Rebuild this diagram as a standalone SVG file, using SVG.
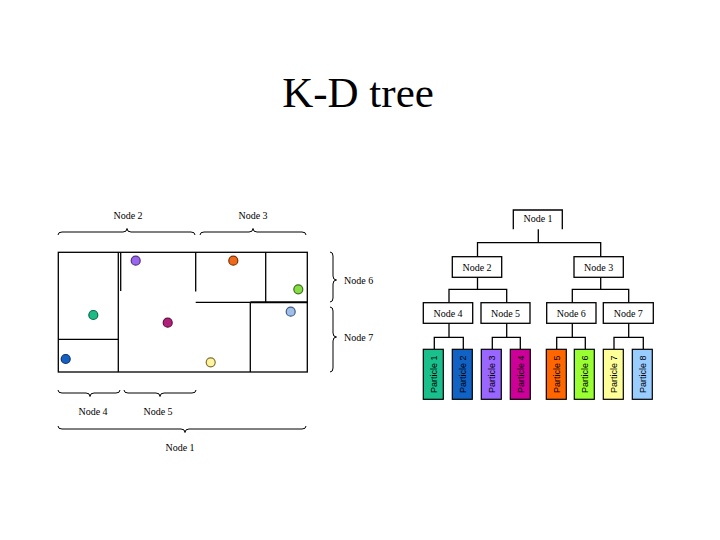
<svg xmlns="http://www.w3.org/2000/svg" width="720" height="540" viewBox="0 0 720 540">
<style>
.ln{stroke:#000;stroke-width:1.3;fill:none}
.br{stroke:#000;stroke-width:1;fill:none}
.lbl{font-family:"Liberation Serif","Times New Roman",serif;font-size:10px;fill:#000}
.box{fill:#fff;stroke:#000;stroke-width:1.3}
.pt{stroke:#000;stroke-width:1.2}
.ptxt{font-family:"Liberation Sans",Arial,sans-serif;font-size:9px;fill:#000}
.ball{stroke-width:1.2}
</style>
<rect width="720" height="540" fill="#fff"/>
<text x="358" y="107" text-anchor="middle" font-family="Liberation Serif,'Times New Roman',serif" font-size="43">K-D tree</text>

<g id="space">
<rect x="58.3" y="252.3" width="249" height="119.7" class="ln"/>
<line x1="118.3" y1="252.3" x2="118.3" y2="372" class="ln"/>
<line x1="120.7" y1="252.3" x2="120.7" y2="291" class="ln"/>
<line x1="58.3" y1="339.3" x2="118.3" y2="339.3" class="ln"/>
<line x1="195.7" y1="252.3" x2="195.7" y2="291.5" class="ln"/>
<line x1="195.7" y1="302.3" x2="250.3" y2="302.3" class="ln"/>
<line x1="250.3" y1="302.3" x2="307.3" y2="302.3" stroke="#000" stroke-width="2"/>
<line x1="265.7" y1="252.3" x2="265.7" y2="302.3" class="ln"/>
<line x1="250.3" y1="302.3" x2="250.3" y2="372" class="ln"/>
</g>

<g id="balls">
<circle cx="93.3" cy="315" r="4.5" fill="#1dbb85" stroke="#0b6b49" class="ball"/>
<circle cx="65.7" cy="359" r="4.5" fill="#1660c0" stroke="#0b3570" class="ball"/>
<circle cx="135.7" cy="260.7" r="4.5" fill="#9966ee" stroke="#523080" class="ball"/>
<circle cx="167.7" cy="322.7" r="4.5" fill="#b0207a" stroke="#601040" class="ball"/>
<circle cx="233.3" cy="260.7" r="4.5" fill="#f06a1c" stroke="#803000" class="ball"/>
<circle cx="298.3" cy="289.3" r="4.5" fill="#88dd44" stroke="#3d7020" class="ball"/>
<circle cx="210.7" cy="362.3" r="4.5" fill="#fff5a0" stroke="#807030" class="ball"/>
<circle cx="290.7" cy="311.7" r="4.5" fill="#9fbfe8" stroke="#405a80" class="ball"/>
</g>

<g id="braces">
<path class="br" d="M58,235 Q58,232 62,232 L123,232 Q127,232 127,228.5 Q127,232 131,232 L191,232 Q195,232 195,235"/>
<path class="br" d="M200,235 Q200,232 204,232 L249,232 Q253,232 253,228.5 Q253,232 257,232 L302,232 Q306,232 306,235"/>
<path class="br" d="M330,252 Q333,252 333,256 L333,276 Q333,280 336.5,280 Q333,280 333,284 L333,298 Q333,302 330,302"/>
<path class="br" d="M330,307 Q333,307 333,311 L333,333 Q333,337 336.5,337 Q333,337 333,341 L333,368 Q333,372 330,372"/>
<path class="br" d="M58,390 Q58,393 62,393 L86,393 Q90,393 90,396.5 Q90,393 94,393 L116,393 Q120,393 120,390"/>
<path class="br" d="M124,390 Q124,393 128,393 L156,393 Q160,393 160,396.5 Q160,393 164,393 L192,393 Q196,393 196,390"/>
<path class="br" d="M58,426 Q58,429 62,429 L181,429 Q185,429 185,432.5 Q185,429 189,429 L302,429 Q306,429 306,426"/>
</g>

<g id="space-labels">
<text class="lbl" x="128" y="219" text-anchor="middle">Node 2</text>
<text class="lbl" x="253" y="219" text-anchor="middle">Node 3</text>
<text class="lbl" x="344" y="284">Node 6</text>
<text class="lbl" x="344" y="341">Node 7</text>
<text class="lbl" x="93" y="415" text-anchor="middle">Node 4</text>
<text class="lbl" x="158" y="415" text-anchor="middle">Node 5</text>
<text class="lbl" x="180" y="451" text-anchor="middle">Node 1</text>
</g>

<g id="connectors">
<line x1="538.3" y1="229.3" x2="538.3" y2="242.7" class="ln"/>
<polyline points="477.5,256.7 477.5,242.7 600.7,242.7 600.7,256.7" class="ln"/>
<line x1="477.5" y1="277.3" x2="477.5" y2="289.3" class="ln"/>
<polyline points="449,302.7 449,289.3 506.7,289.3 506.7,302.7" class="ln"/>
<line x1="600.7" y1="277.3" x2="600.7" y2="289.3" class="ln"/>
<polyline points="572.3,302.7 572.3,289.3 628.7,289.3 628.7,302.7" class="ln"/>
<line x1="449" y1="323.3" x2="449" y2="337.3" class="ln"/>
<polyline points="434.3,349.3 434.3,337.3 463.3,337.3 463.3,349.3" class="ln"/>
<line x1="506.7" y1="323.3" x2="506.7" y2="337.3" class="ln"/>
<polyline points="492.3,349.3 492.3,337.3 520.3,337.3 520.3,349.3" class="ln"/>
<line x1="572.3" y1="323.3" x2="572.3" y2="337.3" class="ln"/>
<polyline points="556.7,349.3 556.7,337.3 585.3,337.3 585.3,349.3" class="ln"/>
<line x1="628.7" y1="323.3" x2="628.7" y2="337.3" class="ln"/>
<polyline points="614,349.3 614,337.3 643.3,337.3 643.3,349.3" class="ln"/>
</g>

<g id="node1">
<polyline points="513.3,229.3 513.3,210 562.3,210 562.3,229.3" class="ln"/>
<text class="lbl" x="538" y="222" text-anchor="middle">Node 1</text>
</g>
<g id="node2"><rect class="box" x="452.3" y="256.7" width="49.4" height="20.6"/><text class="lbl" x="477" y="270.5" text-anchor="middle">Node 2</text></g>
<g id="node3"><rect class="box" x="574" y="256.7" width="49.3" height="20.6"/><text class="lbl" x="598.7" y="270.5" text-anchor="middle">Node 3</text></g>
<g id="node4"><rect class="box" x="423.3" y="302.7" width="49.4" height="20.6"/><text class="lbl" x="448" y="316.5" text-anchor="middle">Node 4</text></g>
<g id="node5"><rect class="box" x="481" y="302.7" width="49" height="20.6"/><text class="lbl" x="505.5" y="316.5" text-anchor="middle">Node 5</text></g>
<g id="node6"><rect class="box" x="546.7" y="302.7" width="49.3" height="20.6"/><text class="lbl" x="571.3" y="316.5" text-anchor="middle">Node 6</text></g>
<g id="node7"><rect class="box" x="603.3" y="302.7" width="50" height="20.6"/><text class="lbl" x="628.3" y="316.5" text-anchor="middle">Node 7</text></g>

<g id="particle1"><rect class="pt" x="423.3" y="349.3" width="20" height="50" fill="#19c08c"/><text class="ptxt" transform="translate(436.5,374.3) rotate(-90)" text-anchor="middle">Particle 1</text></g>
<g id="particle2"><rect class="pt" x="452.3" y="349.3" width="20" height="50" fill="#1062c4"/><text class="ptxt" transform="translate(465.5,374.3) rotate(-90)" text-anchor="middle">Particle 2</text></g>
<g id="particle3"><rect class="pt" x="481.3" y="349.3" width="20" height="50" fill="#9966ff"/><text class="ptxt" transform="translate(494.5,374.3) rotate(-90)" text-anchor="middle">Particle 3</text></g>
<g id="particle4"><rect class="pt" x="510.3" y="349.3" width="20" height="50" fill="#cc0099"/><text class="ptxt" transform="translate(523.5,374.3) rotate(-90)" text-anchor="middle">Particle 4</text></g>
<g id="particle5"><rect class="pt" x="546.3" y="349.3" width="20" height="50" fill="#ff6600"/><text class="ptxt" transform="translate(559.5,374.3) rotate(-90)" text-anchor="middle">Particle 5</text></g>
<g id="particle6"><rect class="pt" x="574.3" y="349.3" width="20" height="50" fill="#99ff33"/><text class="ptxt" transform="translate(587.5,374.3) rotate(-90)" text-anchor="middle">Particle 6</text></g>
<g id="particle7"><rect class="pt" x="603.3" y="349.3" width="20" height="50" fill="#ffff99"/><text class="ptxt" transform="translate(616.5,374.3) rotate(-90)" text-anchor="middle">Particle 7</text></g>
<g id="particle8"><rect class="pt" x="632.3" y="349.3" width="20" height="50" fill="#99ccff"/><text class="ptxt" transform="translate(645.5,374.3) rotate(-90)" text-anchor="middle">Particle 8</text></g>
</svg>
